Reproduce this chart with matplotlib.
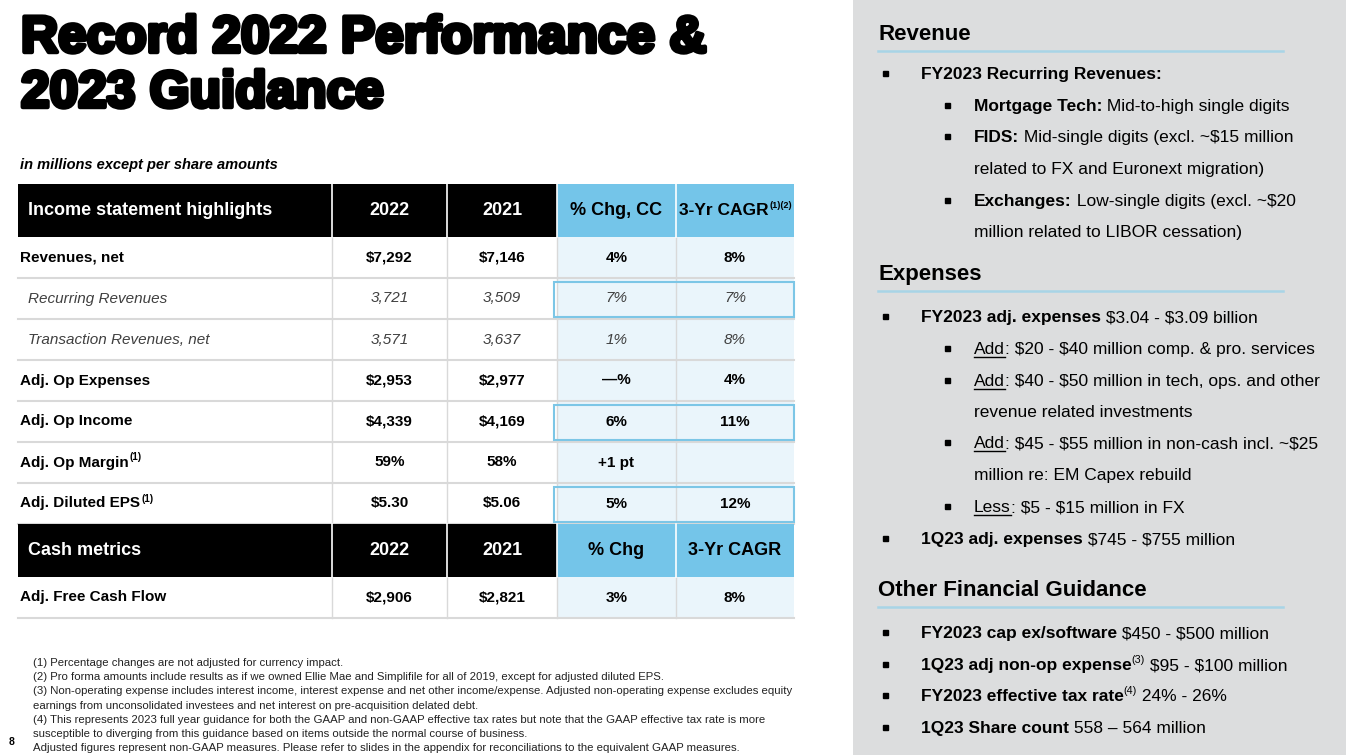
import matplotlib.pyplot as plt
import matplotlib.patheffects as pe
from matplotlib.patches import Rectangle

plt.rcParams['text.parse_math'] = False

# ---- table data ----
row_labels = ["Revenues, net", "Recurring Revenues", "Transaction Revenues, net",
              "Adj. Op Expenses", "Adj. Op Income", "Adj. Op Margin", "Adj. Diluted EPS"]
row_sup = ["", "", "", "", "", "(1)", "(1)"]
row_italic = [False, True, True, False, False, False, False]
vals_2022 = ["$7,292", "3,721", "3,571", "$2,953", "$4,339", "59%", "$5.30"]
vals_2021 = ["$7,146", "3,509", "3,637", "$2,977", "$4,169", "58%", "$5.06"]
pct_chg = ["4%", "7%", "1%", "\u2014%", "6%", "+1 pt", "5%"]
cagr = ["8%", "7%", "8%", "4%", "11%", "", "12%"]
boxed_rows = [1, 4, 6]

header_1 = ["Income statement highlights", "2022", "2021", "% Chg, CC", "3-Yr CAGR"]
header_2 = ["Cash metrics", "2022", "2021", "% Chg", "3-Yr CAGR"]
cash_row = ["Adj. Free Cash Flow", "$2,906", "$2,821", "3%", "8%"]

footnotes = [
    "(1) Percentage changes are not adjusted for currency impact.",
    "(2) Pro forma amounts include results as if we owned Ellie Mae and Simplifile for all of 2019, except for adjusted diluted EPS.",
    "(3) Non-operating expense includes interest income, interest expense and net other income/expense. Adjusted non-operating expense excludes equity",
    "earnings from unconsolidated investees and net interest on pre-acquisition delated debt.",
    "(4) This represents 2023 full year guidance for both the GAAP and non-GAAP effective tax rates but note that the GAAP effective tax rate is more",
    "susceptible to diverging from this guidance based on items outside the normal course of business.",
    "Adjusted figures represent non-GAAP measures. Please refer to slides in the appendix for reconciliations to the equivalent GAAP measures.",
]

# ---- guidance panel: (kind, level, parts) ; parts = (text, style) ----
guidance = [
    ("head", 0, [("Revenue", "b")]),
    ("item", 1, [("FY2023 Recurring Revenues:", "b")]),
    ("item", 2, [("Mortgage Tech:", "b"), (" Mid-to-high single digits", "r")]),
    ("item", 2, [("FIDS:", "b"), (" Mid-single digits (excl. ~$15 million", "r")]),
    ("cont", 2, [("related to FX and Euronext migration)", "r")]),
    ("item", 2, [("Exchanges:", "b"), (" Low-single digits (excl. ~$20", "r")]),
    ("cont", 2, [("million related to LIBOR cessation)", "r")]),
    ("head", 0, [("Expenses", "b")]),
    ("item", 1, [("FY2023 adj. expenses", "b"), (" $3.04 - $3.09 billion", "r")]),
    ("item", 2, [("Add", "u"), (": $20 - $40 million comp. & pro. services", "r")]),
    ("item", 2, [("Add", "u"), (": $40 - $50 million in tech, ops. and other", "r")]),
    ("cont", 2, [("revenue related investments", "r")]),
    ("item", 2, [("Add", "u"), (": $45 - $55 million in non-cash incl. ~$25", "r")]),
    ("cont", 2, [("million re: EM Capex rebuild", "r")]),
    ("item", 2, [("Less", "u"), (": $5 - $15 million in FX", "r")]),
    ("item", 1, [("1Q23 adj. expenses", "b"), (" $745 - $755 million", "r")]),
    ("head", 0, [("Other Financial Guidance", "b")]),
    ("item", 1, [("FY2023 cap ex/software", "b"), (" $450 - $500 million", "r")]),
    ("item", 1, [("1Q23 adj non-op expense", "b"), ("(3)", "s"), (" $95 - $100 million", "r")]),
    ("item", 1, [("FY2023 effective tax rate", "b"), ("(4)", "s"), (" 24% - 26%", "r")]),
    ("item", 1, [("1Q23 Share count", "b"), (" 558 \u2013 564 million", "r")]),
]
guide_y = [33, 73, 105, 136, 168, 200, 231, 273, 316, 348, 380, 411, 442, 474, 506, 538,
           589, 632, 664, 695, 727]

NARROW = ["Liberation Sans Narrow", "Liberation Sans", "DejaVu Sans"]
ARIAL = ["Liberation Sans", "DejaVu Sans"]

fig = plt.figure(figsize=(13.46, 7.55), dpi=100)
ax = fig.add_axes([0, 0, 1, 1])
ax.set_xlim(0, 1346)
ax.set_ylim(755, 0)
ax.axis("off")
fig.canvas.draw()
renderer = fig.canvas.get_renderer()


def width_of(txt, **kw):
    t = ax.text(0, 0, txt.replace(" ", "\u00a0"), **kw)
    w = t.get_window_extent(renderer).width
    t.remove()
    return w


def rich(x, y, parts, size, family, color="black"):
    for txt, st in parts:
        kw = dict(fontsize=size, family=family, color=color)
        yy = y
        if st == "b":
            kw["fontweight"] = "bold"
        if st == "s":
            kw["fontsize"] = size * 0.62
            yy = y - size * 0.55
        ax.text(x, yy, txt.replace(" ", "\u00a0"), va="baseline", ha="left", **kw)
        w = width_of(txt, **kw)
        if st == "u":
            ax.plot([x, x + w], [y + 2.5, y + 2.5], color=color, lw=1.0)
        x += w
    return x


# ---- title ----
title_fx = [pe.withStroke(linewidth=3.2, foreground="black")]
ax.text(21, 52, "Record 2022 Performance &", fontsize=37, fontweight="heavy",
        family=ARIAL, va="baseline", path_effects=title_fx)
ax.text(21, 107, "2023 Guidance", fontsize=37, fontweight="heavy",
        family=ARIAL, va="baseline", path_effects=title_fx)

ax.text(20, 169, "in millions except per share amounts", fontsize=10.5, fontweight="bold",
        fontstyle="italic", family=ARIAL, va="baseline")

# ---- table ----
col_x = [18, 332, 447, 557, 676, 794]
col_c = [(col_x[i] + col_x[i + 1]) / 2 for i in range(5)]
BLACK = "#000000"
BLUE = "#74C5E9"
PALE = "#EAF5FB"
GRID = "#D9D9D9"
BOX = "#7CC6E6"


def header(y0, y1, labels, sup=""):
    for i in range(5):
        fc = BLACK if i < 3 else BLUE
        ax.add_patch(Rectangle((col_x[i], y0), col_x[i + 1] - col_x[i], y1 - y0,
                               fc=fc, ec="none", zorder=1))
    for xv in col_x[1:5]:
        ax.plot([xv, xv], [y0, y1], color="white", lw=1.2, zorder=2)
    ym = (y0 + y1) / 2
    ax.text(28, ym, labels[0], fontsize=13, fontweight="bold", family=NARROW,
            color="white", va="center", zorder=3)
    for i in range(1, 5):
        color = "white" if i < 3 else "black"
        if i == 4 and sup:
            t = ax.text(col_x[4] + 3, ym, labels[i], fontsize=12.5, fontweight="bold",
                        family=NARROW, color=color, va="center", ha="left", zorder=3)
            bb = t.get_window_extent(renderer)
            ax.text(col_x[4] + 3 + bb.width + 1, ym - 5, sup, fontsize=6.5,
                    fontweight="bold", family=NARROW, color=color, va="center", zorder=3)
        else:
            ax.text(col_c[i], ym, labels[i], fontsize=13, fontweight="bold",
                    family=NARROW, color=color, va="center", ha="center", zorder=3)


def body_row(y0, y1, cells, italic=False, sup=""):
    ax.add_patch(Rectangle((col_x[3], y0), col_x[5] - col_x[3], y1 - y0,
                           fc=PALE, ec="none", zorder=0))
    ax.plot([col_x[0], col_x[5]], [y1, y1], color=GRID, lw=1.5, zorder=1)
    for xv in col_x[1:5]:
        ax.plot([xv, xv], [y0, y1], color=GRID, lw=1.0, zorder=1)
    ym = (y0 + y1) / 2
    kw = dict(fontsize=11, family=NARROW, va="center", zorder=3)
    if italic:
        kw.update(fontstyle="italic", color="#404040")
        lx = 28
    else:
        kw.update(fontweight="bold", color="black")
        lx = 20
    t = ax.text(lx, ym, cells[0], **kw)
    if sup:
        bb = t.get_window_extent(renderer)
        ax.text(lx + bb.width + 1, ym - 5, sup, fontsize=7, fontweight="bold",
                family=NARROW, va="center", zorder=3)
    for i in range(1, 5):
        ax.text(col_c[i], ym, cells[i], ha="center", **kw)


header(184, 237, header_1, sup="(1)(2)")
row_h = 41
y = 237
for r in range(len(row_labels)):
    cells = [row_labels[r], vals_2022[r], vals_2021[r], pct_chg[r], cagr[r]]
    body_row(y, y + row_h, cells, italic=row_italic[r], sup=row_sup[r])
    if r in boxed_rows:
        ax.add_patch(Rectangle((554, y + 4), 240, row_h - 6, fc="none", ec=BOX,
                               lw=1.5, zorder=4))
    y += row_h
header(y, y + 53, header_2)
y += 53
body_row(y, y + row_h, cash_row)

# ---- footnotes ----
for k, line in enumerate(footnotes):
    ax.text(33, 666 + k * 14.2, line, fontsize=8.2, family=NARROW, color="#222222",
            va="baseline")
ax.text(9, 745, "8", fontsize=7.5, fontweight="bold", family=ARIAL, va="baseline")

# ---- guidance panel ----
ax.add_patch(Rectangle((853, 0), 493, 755, fc="#DCDDDE", ec="none", zorder=0))
for (kind, level, parts), yc in zip(guidance, guide_y):
    if kind == "head":
        ax.text(878, yc + 7, parts[0][0], fontsize=16, fontweight="bold", family=ARIAL,
                va="baseline")
        ax.plot([878, 1283], [yc + 18, yc + 18], color="#A8D4E6", lw=1.8)
        continue
    bx, tx = (883, 921) if level == 1 else (945, 974)
    if kind == "item":
        ax.plot([bx + 2], [yc], marker="s", ms=3.6, color="black")
    rich(tx, yc + 6, parts, 12.5, ARIAL)

fig.savefig("out.png", dpi=100)
